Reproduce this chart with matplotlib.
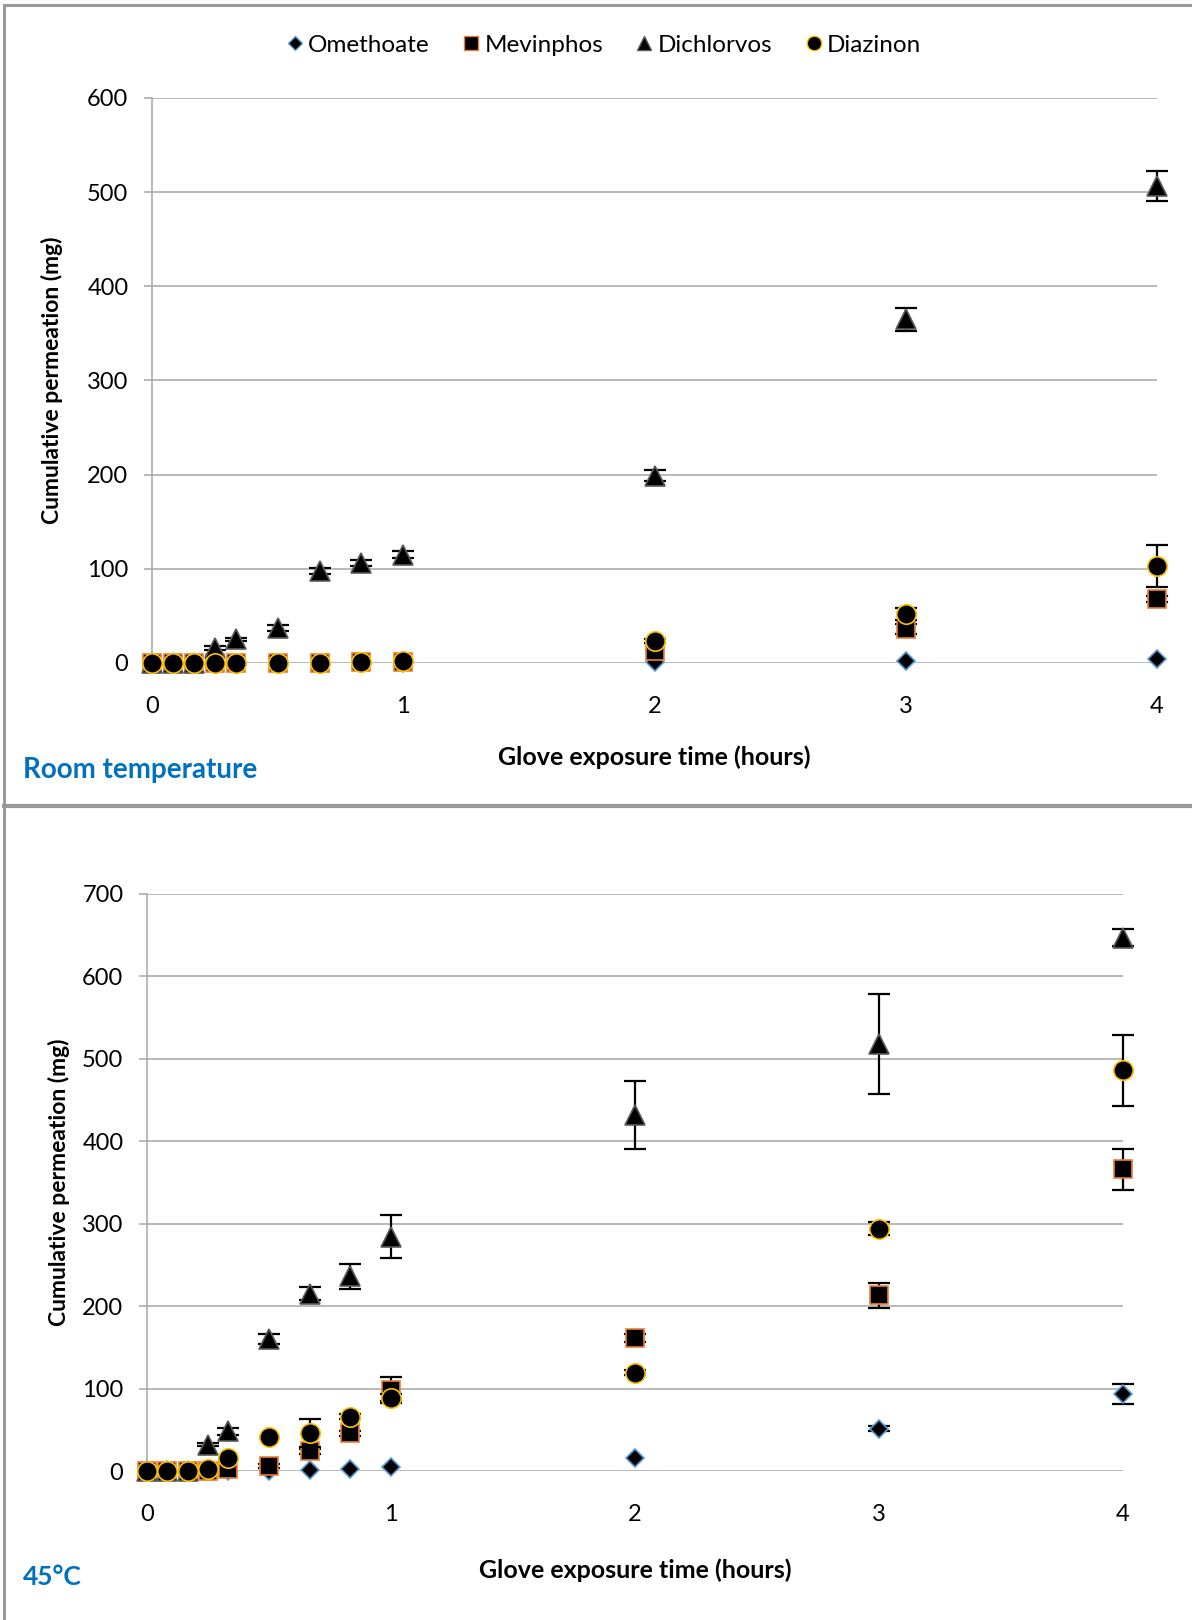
import numpy as np
import matplotlib.pyplot as plt
from matplotlib.lines import Line2D

plt.rcParams['font.family'] = ['Lato', 'DejaVu Sans']

# exposure times (hours): 0,5,10,15,20,30,40,50 min, then 1-4 h
hours = [0, 5/60, 10/60, 15/60, 20/60, 30/60, 40/60, 50/60, 1, 2, 3, 4]
names = ['Omethoate', 'Mevinphos', 'Dichlorvos', 'Diazinon']

# room temperature
ome_rt = [0, 0, 0, 0, 0, 0, 0, 0, 0, 1, 2, 4]
mev_rt = [0, 0, 0, 0, 0, 0, 0, 1, 1, 13, 36, 68]
dic_rt = [0, 0, 0, 16, 25, 37, 98, 106, 115, 199, 365, 507]
dia_rt = [0, 0, 0, 0, 0, 0, 0, 1, 2, 23, 52, 103]
ome_rt_err = [0, 0, 0, 0, 0, 0, 0, 0, 0, 0, 0, 0]
mev_rt_err = [0, 0, 0, 0, 0, 0, 0, 0, 0, 0, 5, 3]
dic_rt_err = [0, 0, 0, 2, 2, 3, 3, 3, 4, 6, 12, 16]
dia_rt_err = [0, 0, 0, 0, 0, 0, 0, 0, 0, 2, 6, 22]

# 45 degC
ome_45 = [0, 0, 0, 0, 0, 0, 1, 2, 5, 16, 51, 93]
mev_45 = [0, 0, 0, 0, 2, 6, 24, 46, 98, 161, 213, 366]
dic_45 = [0, 0, 0, 32, 48, 160, 215, 236, 284, 432, 518, 647]
dia_45 = [0, 0, 0, 2, 16, 41, 46, 66, 89, 119, 294, 486]
ome_45_err = [0, 0, 0, 0, 0, 0, 0, 0, 0, 0, 3, 12]
mev_45_err = [0, 0, 0, 0, 0, 2, 3, 3, 16, 5, 15, 25]
dic_45_err = [0, 0, 0, 2, 4, 6, 8, 15, 26, 41, 61, 10]
dia_45_err = [0, 0, 0, 0, 0, 0, 17, 3, 4, 3, 8, 43]

# marker, size, edge colour
sty = {'Omethoate': ('D', 9.5, '#5B9BD5'),
       'Mevinphos': ('s', 13, '#ED7D31'),
       'Dichlorvos': ('^', 14, '#595959'),
       'Diazinon': ('o', 14, '#FFC000')}

GRID = '#a6a6a6'


def panel(ax, series, errs, ymax, step, label, label_y, xl_pos, yl_pos, lsize):
    x = np.array(hours)
    for i, (nm, y, e) in enumerate(zip(names, series, errs)):
        y = np.array(y, float)
        e = np.array(e, float)
        m, ms, ec = sty[nm]
        z = 3 + i
        k = e > 0
        if k.any():
            eb = ax.errorbar(x[k], y[k], yerr=e[k], fmt='none', ecolor='black',
                             elinewidth=1.6, capsize=8, capthick=1.6, zorder=z)
            for c in eb.get_children():
                c.set_clip_on(False)
        ax.plot(x, y, ls='none', marker=m, ms=ms, mfc='black', mec=ec,
                mew=1.2, zorder=z + 0.5, clip_on=False)
    ax.set_xlim(0, 4)
    ax.set_ylim(0, ymax)
    ax.set_xticks([0, 1, 2, 3, 4])
    ax.set_yticks(np.arange(0, ymax + 1, step))
    ax.grid(axis='y', color=GRID, lw=1.1)
    ax.set_axisbelow(True)
    for s in ['top', 'right', 'bottom']:
        ax.spines[s].set_visible(False)
    ax.spines['left'].set_color(GRID)
    ax.spines['left'].set_linewidth(1.1)
    ax.tick_params(axis='y', length=6, width=1.1, color=GRID, pad=11,
                   labelsize=17)
    ax.tick_params(axis='x', length=0, pad=24, labelsize=17)
    ax.set_xlabel('Glove exposure time (hours)', fontsize=18,
                  fontweight='bold')
    ax.set_ylabel('Cumulative permeation (mg)', fontsize=16.5,
                  fontweight='bold')
    ax.xaxis.set_label_coords(0.5, xl_pos)
    ax.xaxis.label.set_va('center')
    ax.yaxis.set_label_coords(yl_pos, 0.5)
    ax.yaxis.label.set_va('center')
    ax.figure.text(23 / 1192, 1 - label_y / 1620, label, color='#0070C0',
                   fontsize=lsize, fontweight='bold', va='center', ha='left')


fig = plt.figure(figsize=(11.92, 16.2), dpi=100)
ax1 = fig.add_axes([152 / 1192, 957 / 1620, 1005 / 1192, 565 / 1620])
ax2 = fig.add_axes([147 / 1192, 149 / 1620, 976 / 1192, 577 / 1620])

panel(ax1, [ome_rt, mev_rt, dic_rt, dia_rt],
      [ome_rt_err, mev_rt_err, dic_rt_err, dia_rt_err],
      600, 100, 'Room temperature', 770, -0.1664, -0.0995, 20)
panel(ax2, [ome_45, mev_45, dic_45, dia_45],
      [ome_45_err, mev_45_err, dic_45_err, dia_45_err],
      700, 100, '45°C', 1577, -0.1716, -0.0902, 19)

handles = []
for nm in names:
    m, ms, ec = sty[nm]
    handles.append(Line2D([], [], ls='none', marker=m, ms=ms * 0.75,
                          mfc='black', mec=ec, mew=1.0))
fig.legend(handles, names, loc='center', bbox_to_anchor=(602 / 1192, 1 - 45 / 1620),
           ncol=4, frameon=False, fontsize=17.5, handletextpad=0.05,
           columnspacing=1.2, handlelength=1.0)

# panel frame lines
bc = '#999999'
fig.add_artist(Line2D([4 / 1192, 4 / 1192], [0, 1 - 5 / 1620], color=bc, lw=2.2))
fig.add_artist(Line2D([4 / 1192, 1], [1 - 5 / 1620, 1 - 5 / 1620], color=bc, lw=2.2))
fig.add_artist(Line2D([4 / 1192, 1], [1 - 806 / 1620, 1 - 806 / 1620], color=bc, lw=3))

plt.savefig('out.png', dpi=100)
plt.close()
